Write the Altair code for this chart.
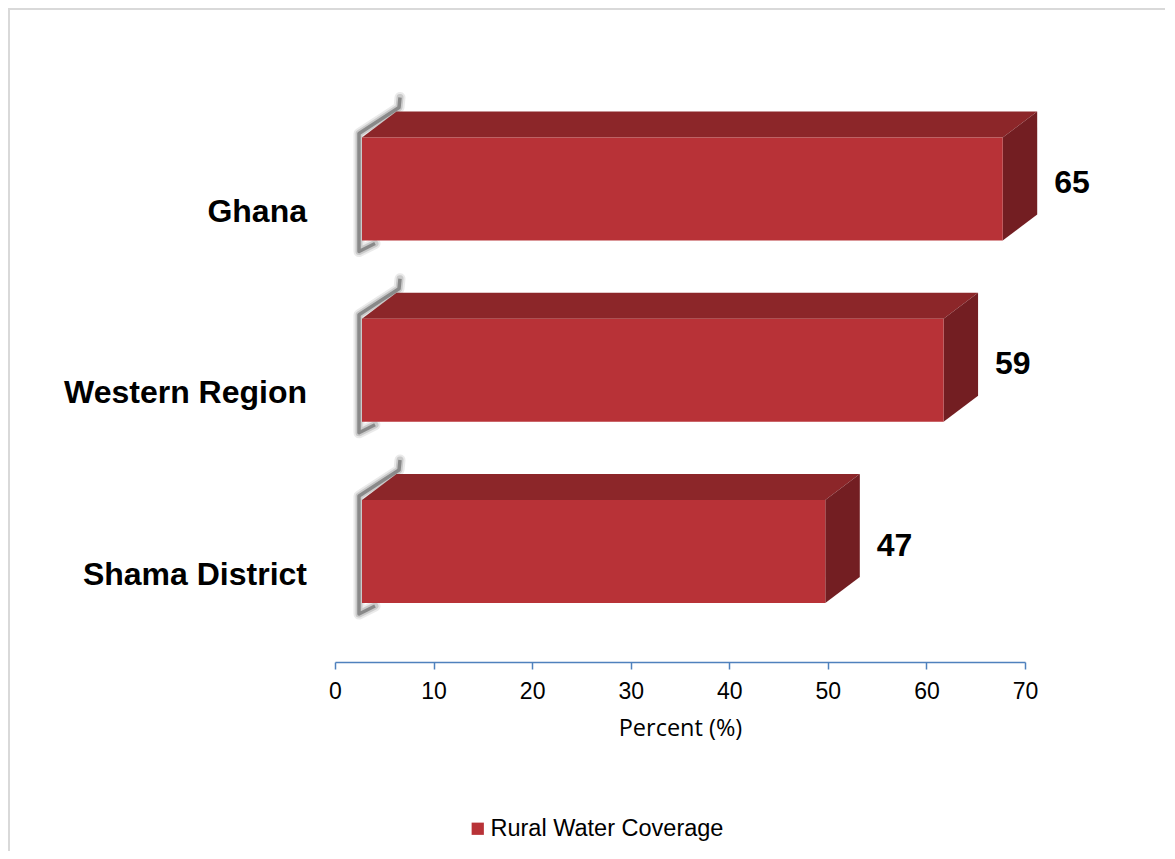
import altair as alt
import pandas as pd

# ---- data ----
categories = ["Ghana", "Western Region", "Shama District"]
values = [65, 59, 47]
series_name = "Rural Water Coverage"
tick_values = [0, 10, 20, 30, 40, 50, 60, 70]

# ---- style constants (pixels / units) ----
W, H = 690, 564
X_MAX = 70
PX = X_MAX / W              # x units per pixel
ROW0, ROW_STEP = 91, 181.25 # y (pixel space, from top) of first row centre
FACE_H = 103
DEPTH_X = 34.5 * PX
DEPTH_Y = 26
X_START = 27 * PX

FRONT = "#B83237"
TOP = "#8C2629"
SIDE = "#731E22"

front_rows, top_rows, side_rows, shadow_rows = [], [], [], []
for i, (c, v) in enumerate(zip(categories, values)):
    yc = ROW0 + ROW_STEP * i
    yt, yb = yc - FACE_H / 2, yc + FACE_H / 2
    x0, x1 = X_START, X_START + v
    front_rows.append(dict(cat=c, value=v, series=series_name, x0=x0, x1=x1,
                           yt=yt, yb=yb, yc=yc, xlab=x1 + DEPTH_X))
    top_rows += [dict(cat=c, y=yt, xa=x0, xb=x1),
                 dict(cat=c, y=yt - DEPTH_Y, xa=x0 + DEPTH_X, xb=x1 + DEPTH_X)]
    side_rows += [dict(cat=c, x=x1, ya=yt, yb=yb),
                  dict(cat=c, x=x1 + DEPTH_X, ya=yt - DEPTH_Y, yb=yb - DEPTH_Y)]
    shadow_rows += [dict(cat=c, k=0, x=x0 + 38 * PX, y=yt - 40),
                    dict(cat=c, k=1, x=x0 + 37 * PX, y=yt - 30),
                    dict(cat=c, k=2, x=x0 - 3 * PX, y=yt - 4),
                    dict(cat=c, k=3, x=x0 - 3 * PX, y=yb + 11),
                    dict(cat=c, k=4, x=x0 + 13 * PX, y=yb + 3)]

front = pd.DataFrame(front_rows)
top = pd.DataFrame(top_rows)
side = pd.DataFrame(side_rows)
shadow = pd.DataFrame(shadow_rows)

xscale = alt.Scale(domain=[0, X_MAX], nice=False, zero=False)
yscale = alt.Scale(domain=[0, H], nice=False, zero=False, reverse=True)

xaxis = alt.Axis(values=tick_values, grid=False, domainColor="#4F81BD", domainWidth=1.5,
                 tickColor="#4F81BD", tickWidth=1.5, tickSize=7, labelFontSize=23,
                 labelFont="Liberation Sans", labelColor="#000000", labelPadding=11,
                 labelFlush=False, labelOverlap=False,
                 title="Percent (%)", titleFont="Open Sans", titleFontSize=23.5,
                 titleFontWeight="normal", titleColor="#000000", titlePadding=13)

frame = alt.Chart(front).mark_rect(fill=None, stroke="#D9D9D9", strokeWidth=2).encode(
    x=alt.value(-326), x2=alt.value(W + 200), y=alt.value(-89), y2=alt.value(H + 300)
)

shadow_wide = alt.Chart(shadow).mark_line(color="#8A8A8A", strokeWidth=11, opacity=0.18,
                                          strokeJoin="round", strokeCap="round").encode(
    x=alt.X("x:Q", scale=xscale, axis=xaxis), y=alt.Y("y:Q", scale=yscale, axis=None),
    detail="cat:N", order="k:Q")
shadow_mid = alt.Chart(shadow).mark_line(color="#808080", strokeWidth=7, opacity=0.3,
                                         strokeJoin="round", strokeCap="round").encode(
    x="x:Q", y="y:Q", detail="cat:N", order="k:Q")
shadow_core = alt.Chart(shadow).mark_line(color="#6E6E6E", strokeWidth=3.5, opacity=0.7,
                                          strokeJoin="round").encode(
    x="x:Q", y="y:Q", detail="cat:N", order="k:Q")

top_face = alt.Chart(top).mark_area(orient="horizontal", color=TOP).encode(
    y="y:Q", x=alt.X("xa:Q", stack=False), x2="xb:Q", detail="cat:N")

side_face = alt.Chart(side).mark_area(orient="vertical", color=SIDE).encode(
    x="x:Q", y=alt.Y("ya:Q", stack=False), y2="yb:Q", detail="cat:N")

front_face = alt.Chart(front).mark_rect().encode(
    x="x0:Q", x2="x1:Q", y="yt:Q", y2="yb:Q",
    color=alt.Color("series:N", scale=alt.Scale(range=[FRONT]),
                    legend=alt.Legend(orient="none", legendX=131, legendY=719, title=None,
                                      direction="horizontal", symbolType="square",
                                      symbolSize=150, symbolStrokeWidth=0,
                                      labelFontSize=23.5, labelFont="Liberation Sans",
                                      labelColor="#000000", labelOffset=1,
                                      labelLimit=0)))

value_labels = alt.Chart(front).mark_text(align="left", baseline="middle", dx=17, dy=-6,
                                          fontSize=32, fontWeight="bold",
                                          font="Liberation Sans", color="#000000").encode(
    x="xlab:Q", y="yc:Q", text="value:Q")

cat_labels = alt.Chart(front).mark_text(align="right", baseline="middle", dy=23,
                                        fontSize=32, fontWeight="bold",
                                        font="Liberation Sans", color="#000000").encode(
    x=alt.value(-28), y="yc:Q", text="cat:N")

chart = alt.layer(frame, shadow_wide, shadow_mid, shadow_core, top_face, side_face,
                  front_face, value_labels, cat_labels).properties(
    width=W, height=H,
    autosize=alt.AutoSizeParams(type="none"),
    padding={"left": 327, "top": 90, "right": 140, "bottom": 189},
    background="#FFFFFF",
).configure_view(stroke=None)

chart.save("out.html", embed_options={"renderer": "svg", "actions": False})
